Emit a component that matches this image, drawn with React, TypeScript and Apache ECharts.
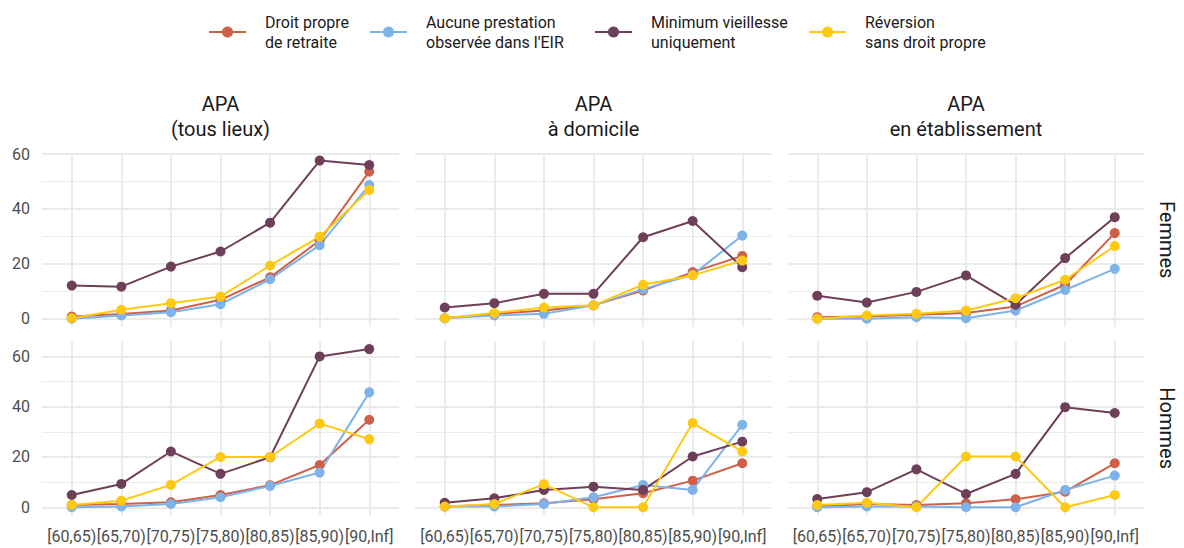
import React, { useEffect, useRef } from 'react';
import * as echarts from 'echarts';

const categories = ['[60,65)', '[65,70)', '[70,75)', '[75,80)', '[80,85)', '[85,90)', '[90,Inf]'];
const seriesNames = [
  'Droit propre de retraite',
  "Aucune prestation observée dans l'EIR",
  'Minimum vieillesse uniquement',
  'Réversion sans droit propre',
];
const legendLabels = [
  'Droit propre\nde retraite',
  "Aucune prestation\nobservée dans l'EIR",
  'Minimum vieillesse\nuniquement',
  'Réversion\nsans droit propre',
];
const seriesColors = ['#CF6047', '#7DB3E8', '#6E3F58', '#FFC913'];
const columnTitles = ['APA\n(tous lieux)', 'APA\nà domicile', 'APA\nen établissement'];
const rowTitles = ['Femmes', 'Hommes'];
const yMajorTicks = [0, 20, 40, 60];
const yMinorTicks = [10, 30, 50];
const xTicks = [0, 1, 2, 3, 4, 5, 6];

// Femmes – APA (tous lieux)
const femmesTousDroit = [0.8, 1.7, 3.0, 6.9, 15.1, 28.5, 53.6];
const femmesTousAucune = [0.0, 1.2, 2.4, 5.3, 14.4, 26.8, 48.7];
const femmesTousMinimum = [12.1, 11.7, 19.0, 24.5, 35.0, 57.6, 56.0];
const femmesTousReversion = [0.2, 3.3, 5.7, 8.1, 19.4, 29.9, 46.9];
// Femmes – APA à domicile
const femmesDomDroit = [0.2, 1.8, 3.0, 4.9, 10.3, 17.0, 22.9];
const femmesDomAucune = [0.2, 1.2, 1.8, 4.9, 10.8, 16.0, 30.3];
const femmesDomMinimum = [4.1, 5.7, 9.1, 9.1, 29.7, 35.6, 18.8];
const femmesDomReversion = [0.2, 2.1, 4.1, 4.9, 12.4, 15.8, 21.2];
// Femmes – APA en établissement
const femmesEtabDroit = [0.6, 0.8, 1.5, 2.1, 4.5, 12.4, 31.2];
const femmesEtabAucune = [0.0, 0.0, 0.6, 0.2, 3.0, 10.5, 18.2];
const femmesEtabMinimum = [8.4, 5.9, 9.8, 15.8, 5.1, 22.1, 37.0];
const femmesEtabReversion = [0.0, 1.2, 1.8, 3.0, 7.5, 14.2, 26.5];
// Hommes – APA (tous lieux)
const hommesTousDroit = [0.9, 1.3, 2.0, 4.9, 8.8, 16.8, 34.8];
const hommesTousAucune = [0.0, 0.3, 1.3, 4.0, 8.5, 13.8, 45.7];
const hommesTousMinimum = [4.9, 9.3, 22.2, 13.3, 19.9, 60.0, 62.9];
const hommesTousReversion = [0.9, 2.6, 8.9, 20.0, 20.0, 33.3, 27.1];
// Hommes – APA à domicile
const hommesDomDroit = [0.3, 0.9, 1.6, 3.2, 5.6, 10.6, 17.5];
const hommesDomAucune = [0.3, 0.3, 1.3, 4.0, 8.9, 6.9, 32.8];
const hommesDomMinimum = [1.8, 3.6, 6.9, 8.2, 6.9, 20.2, 26.1];
const hommesDomReversion = [0.3, 1.3, 9.2, 0.0, 0.0, 33.5, 22.2];
// Hommes – APA en établissement
const hommesEtabDroit = [0.3, 1.3, 0.9, 1.6, 3.2, 6.2, 17.5];
const hommesEtabAucune = [0.0, 0.3, 0.3, 0.0, 0.0, 6.9, 12.6];
const hommesEtabMinimum = [3.3, 6.0, 15.1, 5.3, 13.3, 39.8, 37.5];
const hommesEtabReversion = [0.9, 1.8, 0.0, 20.2, 20.2, 0.0, 4.9];

const panels = [
  [
    [femmesTousDroit, femmesTousAucune, femmesTousMinimum, femmesTousReversion],
    [femmesDomDroit, femmesDomAucune, femmesDomMinimum, femmesDomReversion],
    [femmesEtabDroit, femmesEtabAucune, femmesEtabMinimum, femmesEtabReversion],
  ],
  [
    [hommesTousDroit, hommesTousAucune, hommesTousMinimum, hommesTousReversion],
    [hommesDomDroit, hommesDomAucune, hommesDomMinimum, hommesDomReversion],
    [hommesEtabDroit, hommesEtabAucune, hommesEtabMinimum, hommesEtabReversion],
  ],
];

const FONT = 'Roboto, sans-serif';
const colLeft = [42, 415, 787.5];
const colWidth = 357;
const rowTop = [152.7, 341.2];
const rowHeight = 174;
const legendLeft = [208, 369, 594, 808];

function buildOption() {
  const grid: any[] = [];
  const xAxis: any[] = [];
  const yAxis: any[] = [];
  const series: any[] = [];
  const graphic: any[] = [];

  for (let r = 0; r < 2; r++) {
    let rowMax = 0;
    panels[r].forEach((p) => p.forEach((arr) => arr.forEach((v) => (rowMax = Math.max(rowMax, v)))));
    const yMin = -0.05 * rowMax;
    const yMax = 1.05 * rowMax;
    for (let c = 0; c < 3; c++) {
      const gi = r * 3 + c;
      grid.push({ left: colLeft[c], top: rowTop[r], width: colWidth, height: rowHeight, containLabel: false });
      xAxis.push({
        gridIndex: gi,
        type: 'value',
        min: -0.6,
        max: 6.6,
        axisLine: { show: false },
        axisTick: { show: false, customValues: xTicks },
        axisLabel: {
          show: r === 1,
          customValues: xTicks,
          formatter: (v: number) => categories[Math.round(v)],
          fontSize: 16,
          fontFamily: FONT,
          color: '#4D4D4D',
          margin: 13,
        },
        splitLine: { show: true, lineStyle: { color: '#EBEBEB', width: 2 } },
      });
      yAxis.push({
        gridIndex: gi,
        type: 'value',
        position: 'left',
        min: yMin,
        max: yMax,
        axisLine: { show: false },
        axisTick: { show: false, customValues: yMajorTicks },
        axisLabel: {
          show: c === 0,
          customValues: yMajorTicks,
          fontSize: 16,
          fontFamily: FONT,
          color: '#4D4D4D',
          margin: 12,
        },
        splitLine: { show: true, lineStyle: { color: '#EBEBEB', width: 2 } },
      });
      yAxis.push({
        gridIndex: gi,
        type: 'value',
        position: 'right',
        min: yMin,
        max: yMax,
        axisLine: { show: false },
        axisTick: { show: false, customValues: yMinorTicks },
        axisLabel: { show: false },
        splitLine: { show: true, lineStyle: { color: '#EBEBEB', width: 1 } },
      });
      panels[r][c].forEach((vals, k) => {
        series.push({
          type: 'line',
          name: seriesNames[k],
          xAxisIndex: gi,
          yAxisIndex: gi * 2,
          data: vals.map((v, i) => [i, v]),
          symbol: 'circle',
          symbolSize: 10,
          lineStyle: { width: 2, color: seriesColors[k] },
          itemStyle: { color: seriesColors[k] },
        });
      });
    }
  }

  columnTitles.forEach((t, c) => {
    graphic.push({
      type: 'text',
      x: colLeft[c] + colWidth / 2,
      y: 116,
      style: {
        text: t,
        align: 'center',
        verticalAlign: 'middle',
        fontSize: 20,
        fontFamily: FONT,
        lineHeight: 25,
        fill: '#1A1A1A',
      },
    });
  });
  rowTitles.forEach((t, r) => {
    graphic.push({
      type: 'text',
      x: 1167,
      y: rowTop[r] + rowHeight / 2,
      rotation: -Math.PI / 2,
      style: {
        text: t,
        align: 'center',
        verticalAlign: 'middle',
        fontSize: 20,
        fontFamily: FONT,
        fill: '#1A1A1A',
      },
    });
  });

  const legend = seriesNames.map((n, k) => ({
    data: [{ name: n }],
    left: legendLeft[k],
    top: 12,
    padding: 0,
    itemWidth: 37,
    itemHeight: 14,
    selectedMode: false,
    formatter: () => legendLabels[k],
    textStyle: {
      fontSize: 16,
      fontFamily: FONT,
      color: '#1A1A1A',
      lineHeight: 20,
      padding: [0, 0, 0, 14],
    },
  }));

  return {
    animation: false,
    backgroundColor: '#FFFFFF',
    textStyle: { fontFamily: FONT },
    legend,
    grid,
    xAxis,
    yAxis,
    series,
    graphic,
  };
}

export default function App() {
  const ref = useRef<HTMLDivElement>(null);
  useEffect(() => {
    if (!ref.current) return;
    const chart = echarts.init(ref.current, undefined, { renderer: 'svg' });
    chart.setOption(buildOption() as any);
    return () => chart.dispose();
  }, []);
  return (
    <div
      ref={ref}
      style={{ position: 'fixed', left: 0, top: 0, width: 1184, height: 548, background: '#FFFFFF' }}
    />
  );
}
